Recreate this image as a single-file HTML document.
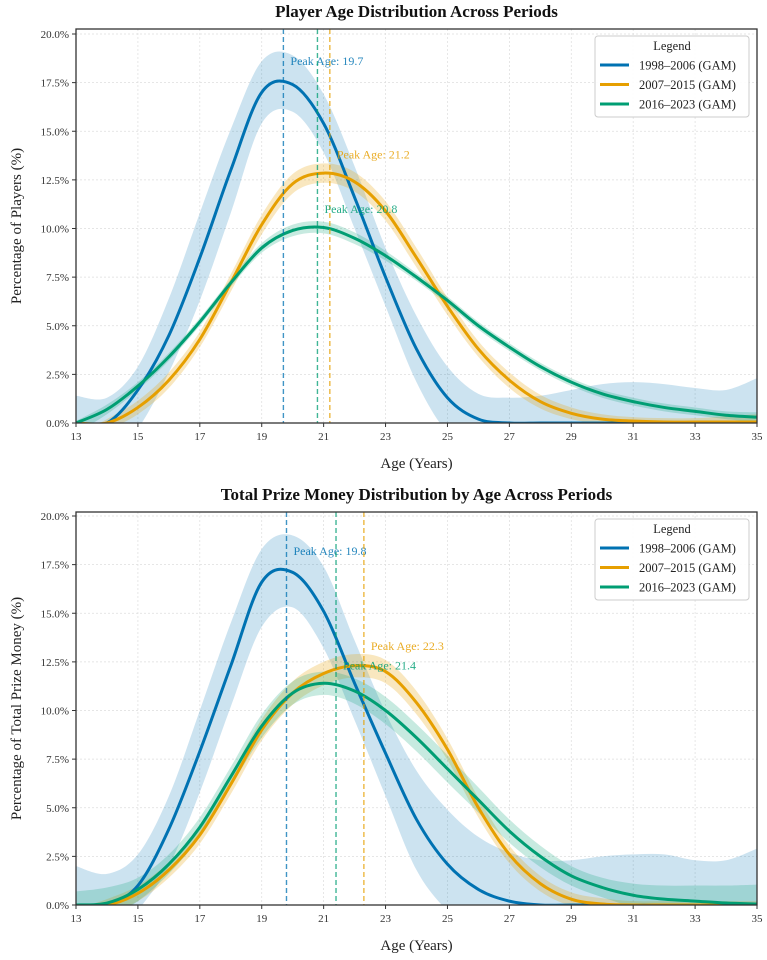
<!DOCTYPE html>
<html><head><meta charset="utf-8"><style>
html,body{margin:0;padding:0;background:#fff;}
svg{display:block;font-family:"Liberation Serif",serif;}
</style></head><body>
<svg id="chart" width="767" height="960" viewBox="0 0 767 960"></svg>
<script>
const ages=[13,14,15,16,17,18,19,20,21,22,23,24,25,26,27,28,29,30,31,32,33,34,35];
const xTicks=[13,15,17,19,21,23,25,27,29,31,33,35];
const yTicks=[0,2.5,5,7.5,10,12.5,15,17.5,20];
const seriesNames=["1998–2006 (GAM)","2007–2015 (GAM)","2016–2023 (GAM)"];
// Panel 1: player age
const p1BlueMean=[-1.5,-0.4,1.7,4.5,8.5,13.0,17.0,17.4,15.4,11.6,7.5,3.8,1.3,0.2,-0.1,-0.1,0,0,0,0,0,0,0];
const p1BlueHi=[1.4,1.3,2.9,6.4,10.8,15.1,18.6,18.9,16.9,13.2,9.0,5.5,2.9,1.5,1.3,1.4,1.7,2.0,2.1,2.0,1.8,1.7,2.3];
const p1BlueLo=[-4,-2,-0.3,2.6,6.3,10.8,15.4,16.0,13.9,10.0,6.0,2.1,-0.5,-1.5,-2,-2,-2,-2,-2,-2,-2,-2,-2];
const p1OrangeMean=[-1.0,-0.1,0.8,2.2,4.3,7.2,10.2,12.3,12.85,12.4,10.9,8.5,6.0,3.8,2.2,1.1,0.5,0.2,0.1,0.05,0.05,0.05,0.05];
const p1OrangeBand=[0.3,0.3,0.35,0.4,0.4,0.45,0.5,0.5,0.5,0.5,0.5,0.5,0.45,0.4,0.4,0.35,0.3,0.25,0.2,0.2,0.2,0.3,0.4];
const p1GreenMean=[-0.2,0.7,1.9,3.4,5.2,7.2,9.0,9.9,10.05,9.5,8.6,7.5,6.3,5.0,3.9,2.9,2.1,1.5,1.1,0.8,0.6,0.4,0.3];
const p1GreenBand=[0.3,0.25,0.2,0.2,0.2,0.2,0.25,0.3,0.3,0.3,0.25,0.2,0.2,0.2,0.2,0.2,0.2,0.2,0.2,0.2,0.2,0.2,0.25];
const p1Peaks=[19.7,21.2,20.8];
const p1PeakLabelY=[18.4,13.6,10.8];
// Panel 2: prize money
const p2BlueMean=[-1.6,-0.5,1.0,3.9,7.9,12.3,16.6,17.1,15.1,11.4,7.8,4.4,2.1,0.8,0.2,0,0,0,0,0,0,0,0];
const p2BlueHi=[2.0,1.6,2.6,5.6,10.0,14.5,18.3,19.0,17.4,13.6,9.9,6.9,4.9,3.5,2.7,2.3,2.3,2.5,2.6,2.6,2.3,2.3,2.9];
const p2BlueLo=[-4,-2.5,-0.3,2.0,5.8,10.2,14.3,15.3,13.2,9.5,5.6,1.8,-0.3,-1.5,-2,-2,-2,-2,-2,-2,-2,-2,-2];
const p2OrangeMean=[-0.6,-0.1,0.6,1.8,3.6,6.2,9.0,10.9,11.9,12.3,12.0,10.4,8.0,5.0,2.6,1.1,0.3,0.05,0,0,0,0,0];
const p2OrangeBand=[0.4,0.4,0.4,0.4,0.45,0.5,0.55,0.6,0.6,0.6,0.6,0.6,0.55,0.5,0.45,0.4,0.35,0.3,0.2,0.2,0.2,0.2,0.2];
const p2GreenMean=[-0.3,0.1,0.8,2.1,4.0,6.6,9.2,10.9,11.4,11.0,10.0,8.6,7.0,5.4,3.8,2.5,1.5,0.9,0.5,0.3,0.2,0.1,0.05];
const p2GreenBand=[1.0,0.8,0.6,0.5,0.5,0.5,0.6,0.6,0.6,0.65,0.7,0.7,0.7,0.65,0.6,0.55,0.5,0.5,0.6,0.7,0.8,0.9,1.0];
const p2Peaks=[19.8,22.3,21.4];
const p2PeakLabelY=[18.0,13.1,12.1];

const colors=["#0072B2","#E69F00","#009E73"];
const NS="http://www.w3.org/2000/svg";
const svg=document.getElementById('chart');
function el(tag,attrs,parent){const e=document.createElementNS(NS,tag);for(const k in attrs)e.setAttribute(k,attrs[k]);(parent||svg).appendChild(e);return e;}
function curve(pts){let d="M"+pts[0][0]+","+pts[0][1];for(let i=0;i<pts.length-1;i++){const p0=pts[Math.max(0,i-1)],p1=pts[i],p2=pts[i+1],p3=pts[Math.min(pts.length-1,i+2)];const c1x=p1[0]+(p2[0]-p0[0])/6,c1y=p1[1]+(p2[1]-p0[1])/6,c2x=p2[0]-(p3[0]-p1[0])/6,c2y=p2[1]-(p3[1]-p1[1])/6;d+=" C"+c1x.toFixed(2)+","+c1y.toFixed(2)+" "+c2x.toFixed(2)+","+c2y.toFixed(2)+" "+p2[0].toFixed(2)+","+p2[1].toFixed(2);}return d;}
function revCurve(pts){const r=pts.slice().reverse();return curve(r).replace(/^M/,"L");}

function panel(cfg){
  const L=76,R=757,top=cfg.top,bot=cfg.bot,y0=cfg.y0;
  const x=v=>L+(v-13)*(R-L)/22;
  const y=v=>y0-v*19.45;
  const g=el('g',{});
  
  
  const cid='clip'+cfg.id;
  const cp=el('clipPath',{id:cid},g);el('rect',{x:L,y:top,width:R-L,height:bot-top},cp);
  // grid
  xTicks.forEach(t=>{const l=el('line',{x1:x(t),x2:x(t),y1:top,y2:bot,stroke:"#ddd","stroke-width":0.7,"stroke-dasharray":"2,2"},g);});
  yTicks.forEach(t=>{const l=el('line',{x1:L,x2:R,y1:y(t),y2:y(t),stroke:"#ddd","stroke-width":0.7,"stroke-dasharray":"2,2"},g);});
  const cg=el('g',{"clip-path":"url(#"+cid+")"},g);
  const ser=cfg.series;
  const bandAlpha=[0.2,0.25,0.22];
  ser.forEach((s,i)=>{
    const hi=ages.map((a,k)=>[x(a),y(s.hi?s.hi[k]:s.mean[k]+s.band[k])]);
    const lo=ages.map((a,k)=>[x(a),y(s.lo?s.lo[k]:s.mean[k]-s.band[k])]);
    const b=el('path',{d:curve(hi)+" "+revCurve(lo)+" Z",fill:colors[i],"fill-opacity":bandAlpha[i],stroke:"none"},cg);
    
    
  });
  ser.forEach((s,i)=>{
    const pts=ages.map((a,k)=>[x(a),y(Math.max(0,s.mean[k]))]);
    const p=el('path',{d:curve(pts),fill:"none",stroke:colors[i],"stroke-width":3},cg);
    
    
  });
  cfg.peaks.forEach((pk,i)=>{
    const l=el('line',{x1:x(pk),x2:x(pk),y1:top,y2:bot,stroke:colors[i],"stroke-width":1.4,"stroke-dasharray":"5,3","stroke-opacity":0.75},g);
    
    
    const t=el('text',{x:x(pk)+7,y:y(cfg.labelY[i]),fill:colors[i],"fill-opacity":0.85,"font-size":12},g);
    t.textContent="Peak Age: "+pk.toFixed(1);
    
    
  });
  const fr=el('rect',{x:L,y:top,width:R-L,height:bot-top,fill:"none",stroke:"#333","stroke-width":1.3},g);
  
  xTicks.forEach(t=>{el('line',{x1:x(t),x2:x(t),y1:bot,y2:bot+4,stroke:"#333"},g);const tx=el('text',{x:x(t),y:bot+17,"text-anchor":"middle","font-size":11,fill:"#333"},g);tx.textContent=t;});
  yTicks.forEach(t=>{el('line',{x1:L-4,x2:L,y1:y(t),y2:y(t),stroke:"#333"},g);const tx=el('text',{x:L-7,y:y(t)+4,"text-anchor":"end","font-size":11,fill:"#333"},g);tx.textContent=t.toFixed(1)+"%";});
  const ti=el('text',{x:(L+R)/2,y:top-12,"text-anchor":"middle","font-size":17,"font-weight":"bold",fill:"#111"},g);ti.textContent=cfg.title;
  
  const xl=el('text',{x:(L+R)/2,y:bot+45,"text-anchor":"middle","font-size":15,fill:"#222"},g);xl.textContent="Age (Years)";
  
  const cy=(top+bot)/2;
  const yl=el('text',{x:21,y:cy,"text-anchor":"middle","font-size":15,fill:"#222",transform:"rotate(-90 21 "+cy+")"},g);yl.textContent=cfg.ylabel;
  
  // legend
  const lg=el('g',{},g);
  
  el('rect',{x:595,y:top+7,width:154,height:81,rx:3,fill:"#fff","fill-opacity":0.9,stroke:"#ccc"},lg);
  const lt=el('text',{x:672,y:top+21,"text-anchor":"middle","font-size":12.5,fill:"#222"},lg);lt.textContent="Legend";
  seriesNames.forEach((n,i)=>{
    const ey=top+36+i*19.5;
    const e=el('g',{},lg);
    
    
    el('line',{x1:600,x2:629,y1:ey,y2:ey,stroke:colors[i],"stroke-width":3},e);
    const t=el('text',{x:639,y:ey+4.5,"font-size":12.5,fill:"#222"},e);t.textContent=n;
  });
}
panel({id:1,name:'player-age-panel',top:29,bot:423,y0:423,title:"Player Age Distribution Across Periods",ylabel:"Percentage of Players (%)",
  series:[{mean:p1BlueMean,hi:p1BlueHi,lo:p1BlueLo},{mean:p1OrangeMean,band:p1OrangeBand},{mean:p1GreenMean,band:p1GreenBand}],peaks:p1Peaks,labelY:p1PeakLabelY});
panel({id:2,name:'prize-money-panel',top:512,bot:905,y0:905,title:"Total Prize Money Distribution by Age Across Periods",ylabel:"Percentage of Total Prize Money (%)",
  series:[{mean:p2BlueMean,hi:p2BlueHi,lo:p2BlueLo},{mean:p2OrangeMean,band:p2OrangeBand},{mean:p2GreenMean,band:p2GreenBand}],peaks:p2Peaks,labelY:p2PeakLabelY});
</script>
</body></html>
